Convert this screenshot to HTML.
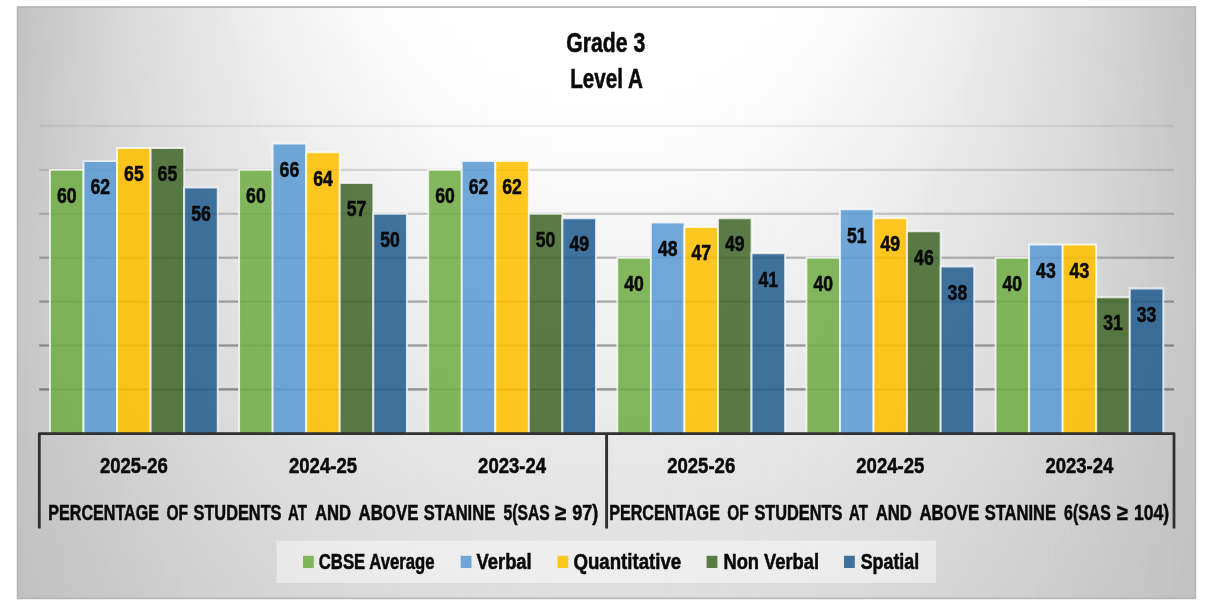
<!DOCTYPE html>
<html lang="en"><head><meta charset="utf-8"><title>Grade 3 Level A</title>
<style>
html,body{margin:0;padding:0;background:#fff;}
body{width:1210px;height:613px;overflow:hidden;position:relative;}
svg{display:block;position:absolute;left:0;top:0;}
text{font-family:"Liberation Sans",sans-serif;font-weight:bold;fill:#0a0a0a;stroke:#0a0a0a;stroke-width:0.55px;stroke-linejoin:round;}
</style></head><body>
<svg width="1210" height="613" viewBox="0 0 1210 613">
<defs>
<linearGradient id="cy" x1="0" y1="0" x2="0" y2="1">
<stop offset="0" stop-color="#fcfcfc"/><stop offset="1" stop-color="#d6d6d6"/>
</linearGradient>
<linearGradient id="ly" x1="0" y1="0" x2="0" y2="1">
<stop offset="0" stop-color="#bcbcbc"/><stop offset="0.5" stop-color="#c1c1c1"/><stop offset="1" stop-color="#bababa"/>
</linearGradient>
<linearGradient id="sx" x1="0" y1="0" x2="1" y2="0">
<stop offset="0.000" stop-color="#fff" stop-opacity="0.0000"/><stop offset="0.050" stop-color="#fff" stop-opacity="0.1900"/><stop offset="0.100" stop-color="#fff" stop-opacity="0.3600"/><stop offset="0.150" stop-color="#fff" stop-opacity="0.5100"/><stop offset="0.200" stop-color="#fff" stop-opacity="0.6400"/><stop offset="0.250" stop-color="#fff" stop-opacity="0.7500"/><stop offset="0.300" stop-color="#fff" stop-opacity="0.8400"/><stop offset="0.350" stop-color="#fff" stop-opacity="0.9100"/><stop offset="0.400" stop-color="#fff" stop-opacity="0.9600"/><stop offset="0.450" stop-color="#fff" stop-opacity="0.9900"/><stop offset="0.500" stop-color="#fff" stop-opacity="1.0000"/><stop offset="0.550" stop-color="#fff" stop-opacity="0.9900"/><stop offset="0.600" stop-color="#fff" stop-opacity="0.9600"/><stop offset="0.650" stop-color="#fff" stop-opacity="0.9100"/><stop offset="0.700" stop-color="#fff" stop-opacity="0.8400"/><stop offset="0.750" stop-color="#fff" stop-opacity="0.7500"/><stop offset="0.800" stop-color="#fff" stop-opacity="0.6400"/><stop offset="0.850" stop-color="#fff" stop-opacity="0.5100"/><stop offset="0.900" stop-color="#fff" stop-opacity="0.3600"/><stop offset="0.950" stop-color="#fff" stop-opacity="0.1900"/><stop offset="1.000" stop-color="#fff" stop-opacity="0.0000"/>
</linearGradient>
<mask id="mx" maskUnits="userSpaceOnUse" x="0" y="0" width="1210" height="613" style="mask-type:alpha">
<rect x="17" y="6.5" width="1179" height="592.5" fill="url(#sx)"/>
</mask>
<filter id="gain" x="0" y="0" width="1" height="1" color-interpolation-filters="sRGB">
<feComponentTransfer><feFuncR type="linear" slope="1.04"/><feFuncG type="linear" slope="1.04"/><feFuncB type="linear" slope="1.04"/></feComponentTransfer>
</filter>
</defs>
<rect x="0" y="0" width="1210" height="613" fill="#ffffff"/>
<g filter="url(#gain)">
<rect x="17" y="6.5" width="1179" height="592.5" fill="url(#ly)"/>
<g mask="url(#mx)"><rect x="17" y="6.5" width="1179" height="592.5" fill="url(#cy)"/></g>
</g>
<rect x="17.6" y="7.1" width="1177.8" height="591.3" fill="none" stroke="#b6b6b6" stroke-width="1.7"/>

<rect x="39.3" y="388.25" width="1134.7" height="2.3" fill="#404040" fill-opacity="0.55"/>
<rect x="39.3" y="344.35" width="1134.7" height="2.3" fill="#404040" fill-opacity="0.48"/>
<rect x="39.3" y="300.45" width="1134.7" height="2.3" fill="#404040" fill-opacity="0.41"/>
<rect x="39.3" y="256.55" width="1134.7" height="2.3" fill="#404040" fill-opacity="0.34"/>
<rect x="39.3" y="212.65" width="1134.7" height="2.3" fill="#404040" fill-opacity="0.26"/>
<rect x="39.3" y="168.75" width="1134.7" height="2.3" fill="#404040" fill-opacity="0.17"/>
<rect x="39.3" y="124.85" width="1134.7" height="2.3" fill="#404040" fill-opacity="0.09"/>
<rect x="49.68" y="169.60" width="34.15" height="263.70" fill="#70ad47" fill-opacity="0.87"/>
<path d="M49.98 434.30V169.90H83.53V434.30" fill="none" stroke="#ffffff" stroke-opacity="0.8" stroke-width="1.9"/>
<rect x="83.23" y="160.82" width="34.15" height="272.48" fill="#5b9bd5" fill-opacity="0.87"/>
<path d="M83.53 434.30V161.12H117.08V434.30" fill="none" stroke="#ffffff" stroke-opacity="0.8" stroke-width="1.9"/>
<rect x="116.78" y="147.65" width="34.15" height="285.65" fill="#ffc000" fill-opacity="0.87"/>
<path d="M117.08 434.30V147.95H150.63V434.30" fill="none" stroke="#ffffff" stroke-opacity="0.8" stroke-width="1.9"/>
<rect x="150.33" y="147.65" width="34.15" height="285.65" fill="#43682b" fill-opacity="0.87"/>
<path d="M150.63 434.30V147.95H184.18V434.30" fill="none" stroke="#ffffff" stroke-opacity="0.8" stroke-width="1.9"/>
<rect x="183.88" y="187.16" width="34.15" height="246.14" fill="#255e91" fill-opacity="0.87"/>
<path d="M184.18 434.30V187.46H217.73V434.30" fill="none" stroke="#ffffff" stroke-opacity="0.8" stroke-width="1.9"/>
<rect x="238.80" y="169.60" width="34.15" height="263.70" fill="#70ad47" fill-opacity="0.87"/>
<path d="M239.10 434.30V169.90H272.65V434.30" fill="none" stroke="#ffffff" stroke-opacity="0.8" stroke-width="1.9"/>
<rect x="272.35" y="143.26" width="34.15" height="290.04" fill="#5b9bd5" fill-opacity="0.87"/>
<path d="M272.65 434.30V143.56H306.20V434.30" fill="none" stroke="#ffffff" stroke-opacity="0.8" stroke-width="1.9"/>
<rect x="305.90" y="152.04" width="34.15" height="281.26" fill="#ffc000" fill-opacity="0.87"/>
<path d="M306.20 434.30V152.34H339.75V434.30" fill="none" stroke="#ffffff" stroke-opacity="0.8" stroke-width="1.9"/>
<rect x="339.45" y="182.77" width="34.15" height="250.53" fill="#43682b" fill-opacity="0.87"/>
<path d="M339.75 434.30V183.07H373.30V434.30" fill="none" stroke="#ffffff" stroke-opacity="0.8" stroke-width="1.9"/>
<rect x="373.00" y="213.50" width="34.15" height="219.80" fill="#255e91" fill-opacity="0.87"/>
<path d="M373.30 434.30V213.80H406.85V434.30" fill="none" stroke="#ffffff" stroke-opacity="0.8" stroke-width="1.9"/>
<rect x="427.92" y="169.60" width="34.15" height="263.70" fill="#70ad47" fill-opacity="0.87"/>
<path d="M428.22 434.30V169.90H461.77V434.30" fill="none" stroke="#ffffff" stroke-opacity="0.8" stroke-width="1.9"/>
<rect x="461.47" y="160.82" width="34.15" height="272.48" fill="#5b9bd5" fill-opacity="0.87"/>
<path d="M461.77 434.30V161.12H495.32V434.30" fill="none" stroke="#ffffff" stroke-opacity="0.8" stroke-width="1.9"/>
<rect x="495.02" y="160.82" width="34.15" height="272.48" fill="#ffc000" fill-opacity="0.87"/>
<path d="M495.32 434.30V161.12H528.87V434.30" fill="none" stroke="#ffffff" stroke-opacity="0.8" stroke-width="1.9"/>
<rect x="528.57" y="213.50" width="34.15" height="219.80" fill="#43682b" fill-opacity="0.87"/>
<path d="M528.87 434.30V213.80H562.42V434.30" fill="none" stroke="#ffffff" stroke-opacity="0.8" stroke-width="1.9"/>
<rect x="562.12" y="217.89" width="34.15" height="215.41" fill="#255e91" fill-opacity="0.87"/>
<path d="M562.42 434.30V218.19H595.97V434.30" fill="none" stroke="#ffffff" stroke-opacity="0.8" stroke-width="1.9"/>
<rect x="617.03" y="257.40" width="34.15" height="175.90" fill="#70ad47" fill-opacity="0.87"/>
<path d="M617.33 434.30V257.70H650.88V434.30" fill="none" stroke="#ffffff" stroke-opacity="0.8" stroke-width="1.9"/>
<rect x="650.58" y="222.28" width="34.15" height="211.02" fill="#5b9bd5" fill-opacity="0.87"/>
<path d="M650.88 434.30V222.58H684.43V434.30" fill="none" stroke="#ffffff" stroke-opacity="0.8" stroke-width="1.9"/>
<rect x="684.13" y="226.67" width="34.15" height="206.63" fill="#ffc000" fill-opacity="0.87"/>
<path d="M684.43 434.30V226.97H717.98V434.30" fill="none" stroke="#ffffff" stroke-opacity="0.8" stroke-width="1.9"/>
<rect x="717.68" y="217.89" width="34.15" height="215.41" fill="#43682b" fill-opacity="0.87"/>
<path d="M717.98 434.30V218.19H751.53V434.30" fill="none" stroke="#ffffff" stroke-opacity="0.8" stroke-width="1.9"/>
<rect x="751.23" y="253.01" width="34.15" height="180.29" fill="#255e91" fill-opacity="0.87"/>
<path d="M751.53 434.30V253.31H785.08V434.30" fill="none" stroke="#ffffff" stroke-opacity="0.8" stroke-width="1.9"/>
<rect x="806.15" y="257.40" width="34.15" height="175.90" fill="#70ad47" fill-opacity="0.87"/>
<path d="M806.45 434.30V257.70H840.00V434.30" fill="none" stroke="#ffffff" stroke-opacity="0.8" stroke-width="1.9"/>
<rect x="839.70" y="209.11" width="34.15" height="224.19" fill="#5b9bd5" fill-opacity="0.87"/>
<path d="M840.00 434.30V209.41H873.55V434.30" fill="none" stroke="#ffffff" stroke-opacity="0.8" stroke-width="1.9"/>
<rect x="873.25" y="217.89" width="34.15" height="215.41" fill="#ffc000" fill-opacity="0.87"/>
<path d="M873.55 434.30V218.19H907.10V434.30" fill="none" stroke="#ffffff" stroke-opacity="0.8" stroke-width="1.9"/>
<rect x="906.80" y="231.06" width="34.15" height="202.24" fill="#43682b" fill-opacity="0.87"/>
<path d="M907.10 434.30V231.36H940.65V434.30" fill="none" stroke="#ffffff" stroke-opacity="0.8" stroke-width="1.9"/>
<rect x="940.35" y="266.18" width="34.15" height="167.12" fill="#255e91" fill-opacity="0.87"/>
<path d="M940.65 434.30V266.48H974.20V434.30" fill="none" stroke="#ffffff" stroke-opacity="0.8" stroke-width="1.9"/>
<rect x="995.27" y="257.40" width="34.15" height="175.90" fill="#70ad47" fill-opacity="0.87"/>
<path d="M995.57 434.30V257.70H1029.12V434.30" fill="none" stroke="#ffffff" stroke-opacity="0.8" stroke-width="1.9"/>
<rect x="1028.82" y="244.23" width="34.15" height="189.07" fill="#5b9bd5" fill-opacity="0.87"/>
<path d="M1029.12 434.30V244.53H1062.67V434.30" fill="none" stroke="#ffffff" stroke-opacity="0.8" stroke-width="1.9"/>
<rect x="1062.37" y="244.23" width="34.15" height="189.07" fill="#ffc000" fill-opacity="0.87"/>
<path d="M1062.67 434.30V244.53H1096.22V434.30" fill="none" stroke="#ffffff" stroke-opacity="0.8" stroke-width="1.9"/>
<rect x="1095.92" y="296.91" width="34.15" height="136.39" fill="#43682b" fill-opacity="0.87"/>
<path d="M1096.22 434.30V297.21H1129.77V434.30" fill="none" stroke="#ffffff" stroke-opacity="0.8" stroke-width="1.9"/>
<rect x="1129.47" y="288.13" width="34.15" height="145.17" fill="#255e91" fill-opacity="0.87"/>
<path d="M1129.77 434.30V288.43H1163.32V434.30" fill="none" stroke="#ffffff" stroke-opacity="0.8" stroke-width="1.9"/>
<path d="M39.3 528.5 V433.6 H1174.0 V528.5" fill="none" stroke="#303030" stroke-width="2.8" stroke-linejoin="round"/>
<path d="M606.6 433.3 V528.5" fill="none" stroke="#303030" stroke-width="2.9"/>
<text x="57.0" y="203.1" font-size="22" textLength="19.6" lengthAdjust="spacingAndGlyphs">60</text>
<text x="90.5" y="194.3" font-size="22" textLength="19.6" lengthAdjust="spacingAndGlyphs">62</text>
<text x="124.1" y="181.2" font-size="22" textLength="19.6" lengthAdjust="spacingAndGlyphs">65</text>
<text x="157.6" y="181.2" font-size="22" textLength="19.6" lengthAdjust="spacingAndGlyphs">65</text>
<text x="191.2" y="220.7" font-size="22" textLength="19.6" lengthAdjust="spacingAndGlyphs">56</text>
<text x="246.1" y="203.1" font-size="22" textLength="19.6" lengthAdjust="spacingAndGlyphs">60</text>
<text x="279.6" y="176.8" font-size="22" textLength="19.6" lengthAdjust="spacingAndGlyphs">66</text>
<text x="313.2" y="185.5" font-size="22" textLength="19.6" lengthAdjust="spacingAndGlyphs">64</text>
<text x="346.7" y="216.3" font-size="22" textLength="19.6" lengthAdjust="spacingAndGlyphs">57</text>
<text x="380.3" y="247.0" font-size="22" textLength="19.6" lengthAdjust="spacingAndGlyphs">50</text>
<text x="435.2" y="203.1" font-size="22" textLength="19.6" lengthAdjust="spacingAndGlyphs">60</text>
<text x="468.7" y="194.3" font-size="22" textLength="19.6" lengthAdjust="spacingAndGlyphs">62</text>
<text x="502.3" y="194.3" font-size="22" textLength="19.6" lengthAdjust="spacingAndGlyphs">62</text>
<text x="535.8" y="247.0" font-size="22" textLength="19.6" lengthAdjust="spacingAndGlyphs">50</text>
<text x="569.4" y="251.4" font-size="22" textLength="19.6" lengthAdjust="spacingAndGlyphs">49</text>
<text x="624.3" y="290.9" font-size="22" textLength="19.6" lengthAdjust="spacingAndGlyphs">40</text>
<text x="657.9" y="255.8" font-size="22" textLength="19.6" lengthAdjust="spacingAndGlyphs">48</text>
<text x="691.4" y="260.2" font-size="22" textLength="19.6" lengthAdjust="spacingAndGlyphs">47</text>
<text x="725.0" y="251.4" font-size="22" textLength="19.6" lengthAdjust="spacingAndGlyphs">49</text>
<text x="758.5" y="286.5" font-size="22" textLength="19.6" lengthAdjust="spacingAndGlyphs">41</text>
<text x="813.4" y="290.9" font-size="22" textLength="19.6" lengthAdjust="spacingAndGlyphs">40</text>
<text x="847.0" y="242.6" font-size="22" textLength="19.6" lengthAdjust="spacingAndGlyphs">51</text>
<text x="880.5" y="251.4" font-size="22" textLength="19.6" lengthAdjust="spacingAndGlyphs">49</text>
<text x="914.1" y="264.6" font-size="22" textLength="19.6" lengthAdjust="spacingAndGlyphs">46</text>
<text x="947.6" y="299.7" font-size="22" textLength="19.6" lengthAdjust="spacingAndGlyphs">38</text>
<text x="1002.5" y="290.9" font-size="22" textLength="19.6" lengthAdjust="spacingAndGlyphs">40</text>
<text x="1036.1" y="277.7" font-size="22" textLength="19.6" lengthAdjust="spacingAndGlyphs">43</text>
<text x="1069.6" y="277.7" font-size="22" textLength="19.6" lengthAdjust="spacingAndGlyphs">43</text>
<text x="1103.2" y="330.4" font-size="22" textLength="19.6" lengthAdjust="spacingAndGlyphs">31</text>
<text x="1136.7" y="321.6" font-size="22" textLength="19.6" lengthAdjust="spacingAndGlyphs">33</text>
<text x="99.9" y="473.4" font-size="22.3" textLength="68" lengthAdjust="spacingAndGlyphs">2025-26</text>
<text x="289.0" y="473.4" font-size="22.3" textLength="68" lengthAdjust="spacingAndGlyphs">2024-25</text>
<text x="478.1" y="473.4" font-size="22.3" textLength="68" lengthAdjust="spacingAndGlyphs">2023-24</text>
<text x="667.2" y="473.4" font-size="22.3" textLength="68" lengthAdjust="spacingAndGlyphs">2025-26</text>
<text x="856.3" y="473.4" font-size="22.3" textLength="68" lengthAdjust="spacingAndGlyphs">2024-25</text>
<text x="1045.4" y="473.4" font-size="22.3" textLength="68" lengthAdjust="spacingAndGlyphs">2023-24</text>
<text y="520.2" font-size="22.4"><tspan x="48.3" textLength="110.7" lengthAdjust="spacingAndGlyphs">PERCENTAGE</tspan> <tspan x="166.4" textLength="21.5" lengthAdjust="spacingAndGlyphs">OF</tspan> <tspan x="193.5" textLength="88.0" lengthAdjust="spacingAndGlyphs">STUDENTS</tspan> <tspan x="288.1" textLength="18.8" lengthAdjust="spacingAndGlyphs">AT</tspan> <tspan x="314.9" textLength="36.1" lengthAdjust="spacingAndGlyphs">AND</tspan> <tspan x="358.5" textLength="59.9" lengthAdjust="spacingAndGlyphs">ABOVE</tspan> <tspan x="423.8" textLength="71.4" lengthAdjust="spacingAndGlyphs">STANINE</tspan> <tspan x="503.5" textLength="46.2" lengthAdjust="spacingAndGlyphs">5(SAS</tspan> <tspan x="555.1" textLength="11.1" lengthAdjust="spacingAndGlyphs">≥</tspan> <tspan x="572.2" textLength="26.1" lengthAdjust="spacingAndGlyphs">97)</tspan></text>
<text y="520.2" font-size="22.4"><tspan x="609.2" textLength="110.7" lengthAdjust="spacingAndGlyphs">PERCENTAGE</tspan> <tspan x="727.3" textLength="21.5" lengthAdjust="spacingAndGlyphs">OF</tspan> <tspan x="754.4" textLength="88.0" lengthAdjust="spacingAndGlyphs">STUDENTS</tspan> <tspan x="849.0" textLength="18.8" lengthAdjust="spacingAndGlyphs">AT</tspan> <tspan x="875.8" textLength="36.1" lengthAdjust="spacingAndGlyphs">AND</tspan> <tspan x="919.4" textLength="59.9" lengthAdjust="spacingAndGlyphs">ABOVE</tspan> <tspan x="984.7" textLength="71.4" lengthAdjust="spacingAndGlyphs">STANINE</tspan> <tspan x="1064.1" textLength="46.6" lengthAdjust="spacingAndGlyphs">6(SAS</tspan> <tspan x="1116.7" textLength="10.9" lengthAdjust="spacingAndGlyphs">≥</tspan> <tspan x="1134.1" textLength="35.1" lengthAdjust="spacingAndGlyphs">104)</tspan></text>
<text x="566.3" y="52.2" font-size="26.8" textLength="79" lengthAdjust="spacingAndGlyphs">Grade 3</text>
<text x="570.2" y="87.6" font-size="26.8" textLength="72.8" lengthAdjust="spacingAndGlyphs">Level A</text>
<rect x="276.5" y="540.5" width="659.5" height="42.5" fill="#ffffff" fill-opacity="0.45"/>
<rect x="303" y="555.8" width="10.8" height="12.2" fill="#70ad47" fill-opacity="0.87"/>
<text x="318.8" y="568.7" font-size="21.7" textLength="115.7" lengthAdjust="spacingAndGlyphs">CBSE Average</text>
<rect x="460.7" y="555.8" width="10.8" height="12.2" fill="#5b9bd5" fill-opacity="0.87"/>
<text x="476.5" y="568.7" font-size="21.7" textLength="55.2" lengthAdjust="spacingAndGlyphs">Verbal</text>
<rect x="557.5" y="555.8" width="10.8" height="12.2" fill="#ffc000" fill-opacity="0.87"/>
<text x="573.4" y="568.7" font-size="21.7" textLength="107.8" lengthAdjust="spacingAndGlyphs">Quantitative</text>
<rect x="706.6" y="555.8" width="10.8" height="12.2" fill="#43682b" fill-opacity="0.87"/>
<text x="723.5" y="568.7" font-size="21.7" textLength="95.5" lengthAdjust="spacingAndGlyphs">Non Verbal</text>
<rect x="844" y="555.8" width="10.8" height="12.2" fill="#255e91" fill-opacity="0.87"/>
<text x="860.7" y="568.7" font-size="21.7" textLength="58.5" lengthAdjust="spacingAndGlyphs">Spatial</text>
</svg>
</body></html>
